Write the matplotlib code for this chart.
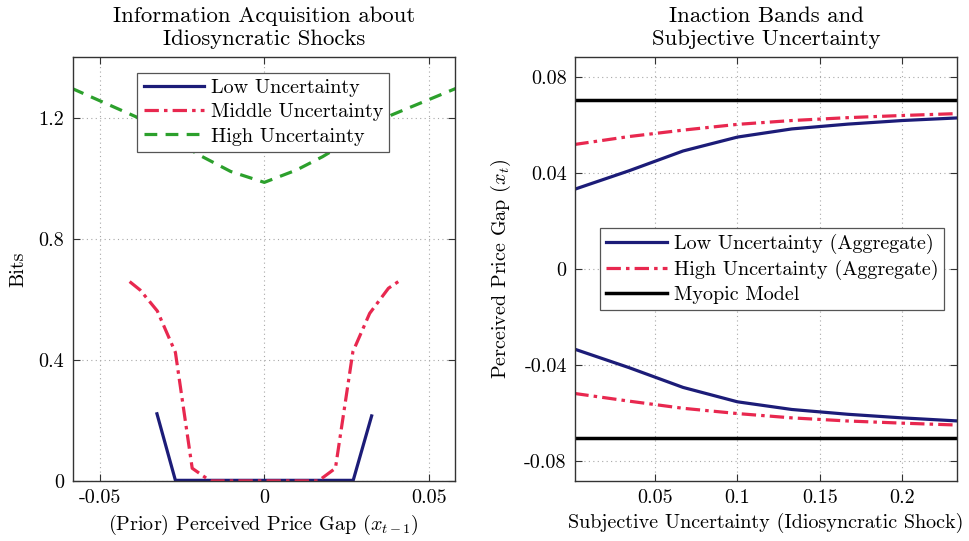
import matplotlib
matplotlib.use('Agg')
from matplotlib import pyplot as plt
import numpy as np

plt.rcParams['font.family'] = ['cmr10']
plt.rcParams['mathtext.fontset'] = 'cm'
plt.rcParams['axes.formatter.use_mathtext'] = True
plt.rcParams['font.size'] = 14.5

navy = '#1c1c78'
red = '#e8284f'
green = '#2ca02c'

# left panel: bits of information acquired vs prior perceived price gap
low_x = [-0.0326, -0.027, -0.0217, -0.0163, -0.0109, -0.0054, 0, 0.0054, 0.0109, 0.0163, 0.0217, 0.027, 0.0326]
low_bits = [0.222, 0.002, 0.002, 0.002, 0.002, 0.002, 0.002, 0.002, 0.002, 0.002, 0.002, 0.002, 0.215]

mid_x = [-0.0409, -0.0377, -0.0325, -0.027, -0.0219, -0.0164, -0.0109, -0.0054, 0,
         0.0054, 0.0109, 0.0164, 0.0216, 0.0269, 0.032, 0.0377, 0.0407]
mid_bits = [0.659, 0.631, 0.562, 0.425, 0.042, 0.0, 0.0, 0.0, 0.0,
            0.0, 0.0, 0.0, 0.042, 0.427, 0.554, 0.637, 0.659]

high_x = [-0.0585, -0.039, -0.0197, -0.0102, 0, 0.0098, 0.0177, 0.0387, 0.0585]
high_bits = [1.298, 1.204, 1.077, 1.023, 0.987, 1.028, 1.072, 1.21, 1.299]

# right panel: inaction bands vs subjective uncertainty
sigma = [0.001, 0.034, 0.067, 0.1, 0.133, 0.167, 0.2, 0.234]
low_upper = [0.0333, 0.0410, 0.0493, 0.0551, 0.0585, 0.0605, 0.0620, 0.0631]
low_lower = [-0.0333, -0.0410, -0.0493, -0.0553, -0.0585, -0.0605, -0.0620, -0.0633]
high_upper = [0.0520, 0.0553, 0.0580, 0.0604, 0.0620, 0.0632, 0.0641, 0.0649]
high_lower = [-0.0518, -0.0550, -0.0580, -0.0602, -0.0620, -0.0633, -0.0642, -0.0650]
myopic = 0.0705

left_xticks = [-0.05, 0, 0.05]
left_xlabels = ['-0.05', '0', '0.05']
left_yticks = [0, 0.4, 0.8, 1.2]
left_ylabels = ['0', '0.4', '0.8', '1.2']
right_xticks = [0.05, 0.1, 0.15, 0.2]
right_xlabels = ['0.05', '0.1', '0.15', '0.2']
right_yticks = [-0.08, -0.04, 0, 0.04, 0.08]
right_ylabels = ['-0.08', '-0.04', '0', '0.04', '0.08']

fig = plt.figure(figsize=(9.69, 5.41), dpi=100)
ax1 = fig.add_axes([0.075, 0.111, 0.3945, 0.7828])
ax2 = fig.add_axes([0.5934, 0.111, 0.3945, 0.7828])

dashdot = (0, (4.5, 1.6, 1.1, 1.6))
dashed = (0, (4, 2.6))

def style(ax):
    ax.grid(True, linestyle=(0, (1, 3)), color='#a8a8a8', linewidth=0.8)
    ax.set_axisbelow(True)
    ax.tick_params(direction='in', top=True, right=True, length=5, width=0.8, color='#333333', pad=6)
    for s in ax.spines.values():
        s.set_color('#333333')
        s.set_linewidth(1.0)

ax1.plot(low_x, low_bits, color=navy, lw=2.3, label='Low Uncertainty')
ax1.plot(mid_x, mid_bits, color=red, lw=2.3, linestyle=dashdot, label='Middle Uncertainty')
ax1.plot(high_x, high_bits, color=green, lw=2.3, linestyle=dashed, label='High Uncertainty')
ax1.set_xlim(-0.0582, 0.0579)
ax1.set_ylim(0, 1.4)
ax1.set_xticks(left_xticks)
ax1.set_xticklabels(left_xlabels)
ax1.set_yticks(left_yticks)
ax1.set_yticklabels(left_ylabels)
ax1.set_xlabel('(Prior) Perceived Price Gap ($x_{t-1}$)', labelpad=4)
ax1.set_ylabel('Bits', labelpad=8)
ax1.set_title('Information Acquisition about\nIdiosyncratic Shocks', fontsize=16.4, pad=9, linespacing=1.25)
style(ax1)
leg1 = ax1.legend(loc='upper center', bbox_to_anchor=(0.499, 0.963), fancybox=False, framealpha=1,
                  edgecolor='#555555', handlelength=3.0, handletextpad=0.35, borderpad=0.3,
                  labelspacing=0.3, borderaxespad=0)
leg1.get_frame().set_linewidth(0.9)

ax2.plot(sigma, low_upper, color=navy, lw=2.3, label='Low Uncertainty (Aggregate)')
ax2.plot(sigma, high_upper, color=red, lw=2.3, linestyle=dashdot, label='High Uncertainty (Aggregate)')
ax2.axhline(myopic, color='black', lw=2.5, label='Myopic Model')
ax2.plot(sigma, low_lower, color=navy, lw=2.3)
ax2.plot(sigma, high_lower, color=red, lw=2.3, linestyle=dashdot)
ax2.axhline(-myopic, color='black', lw=2.5)
ax2.set_xlim(0.0014, 0.2334)
ax2.set_ylim(-0.0883, 0.0883)
ax2.set_xticks(right_xticks)
ax2.set_xticklabels(right_xlabels)
ax2.set_yticks(right_yticks)
ax2.set_yticklabels(right_ylabels)
ax2.set_xlabel('Subjective Uncertainty (Idiosyncratic Shock)', labelpad=4)
ax2.set_ylabel('Perceived Price Gap ($x_t$)', labelpad=8)
ax2.set_title('Inaction Bands and\nSubjective Uncertainty', fontsize=16.4, pad=9, linespacing=1.25)
style(ax2)
leg2 = ax2.legend(loc='center', bbox_to_anchor=(0.516, 0.501), fancybox=False, framealpha=1,
                  edgecolor='#555555', handlelength=3.0, handletextpad=0.35, borderpad=0.3,
                  labelspacing=0.3, borderaxespad=0)
leg2.get_frame().set_linewidth(0.9)

fig.savefig('out.png', dpi=100)
